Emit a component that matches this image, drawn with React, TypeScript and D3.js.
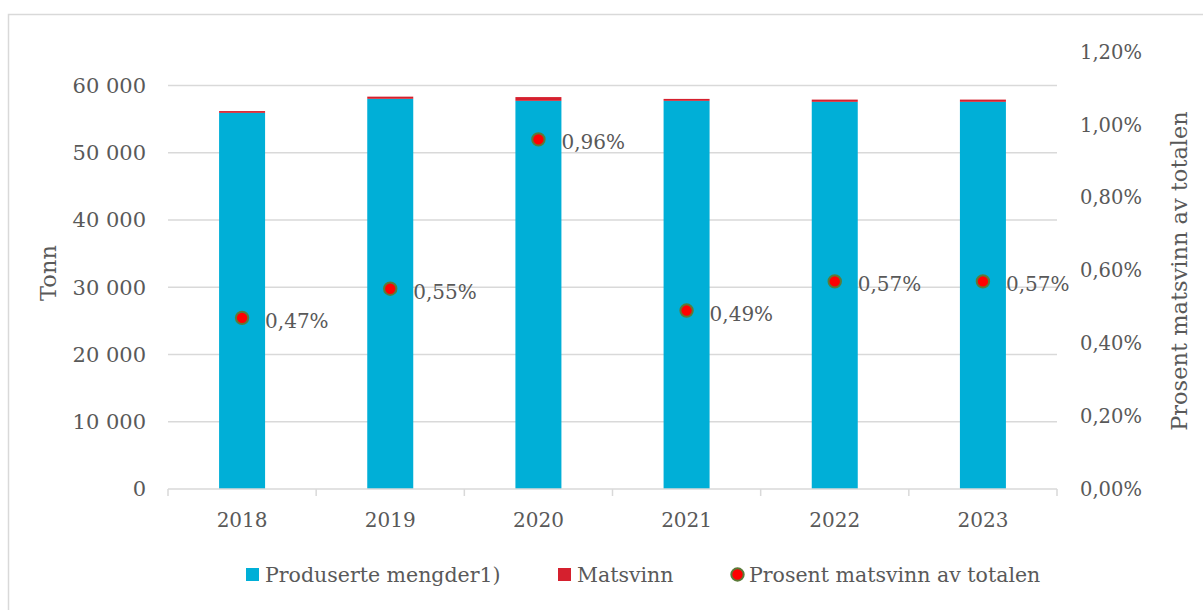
import React from "react";
import * as d3 from "d3";

const years = ["2018", "2019", "2020", "2021", "2022", "2023"];
const produced = [55950, 58040, 57740, 57740, 57590, 57590];
const waste = [263, 320, 555, 283, 330, 330];
const percent = [0.47, 0.55, 0.96, 0.49, 0.57, 0.57];
const percentLabels = ["0,47%", "0,55%", "0,96%", "0,49%", "0,57%", "0,57%"];
const leftTicks = [0, 10000, 20000, 30000, 40000, 50000, 60000];
const rightTicks = [0, 0.2, 0.4, 0.6, 0.8, 1.0, 1.2];
const legendItems = ["Produserte mengder1)", "Matsvinn", "Prosent matsvinn av totalen"];

const W = 1203;
const H = 610;
const plot = { left: 168, right: 1057, top: 52, bottom: 489 };
const FONT = "'DejaVu Serif', Georgia, serif";
const TEXT = "#595959";
const GRID = "#d9d9d9";
const BLUE = "#00afd7";
const RED = "#d5202e";
const DOT = "#ff0000";
const DOT_STROKE = "#5b7a38";

const fmtLeft = (v: number) => d3.format(",")(v).replace(/,/g, " ");
const fmtRight = (v: number) => v.toFixed(2).replace(".", ",") + "%";

export default function App() {
  const x = d3.scaleBand<string>().domain(years).range([plot.left, plot.right]).paddingInner(0).paddingOuter(0);
  const yL = d3.scaleLinear().domain([0, 65000]).range([plot.bottom, plot.top]);
  const yR = d3.scaleLinear().domain([0, 1.2]).range([plot.bottom, plot.top]);
  const barW = 46;
  const boundaries = [...years.map((y) => x(y) as number), plot.right];

  return (
    <svg width={W} height={H} style={{ position: "absolute", left: 0, top: 0, background: "#fff" }} fontFamily={FONT}>
      <rect x={8.5} y={14.5} width={1220} height={620} fill="#fff" stroke={GRID} strokeWidth={1.5} />
      {leftTicks.slice(1).map((t) => (
        <line key={t} x1={plot.left} x2={plot.right} y1={yL(t)} y2={yL(t)} stroke={GRID} strokeWidth={1.5} />
      ))}
      {leftTicks.map((t) => (
        <text key={t} x={146} y={yL(t)} dy="0.35em" textAnchor="end" fontSize={21} fill={TEXT}>
          {fmtLeft(t)}
        </text>
      ))}
      {rightTicks.map((t) => (
        <text key={t} x={1080} y={yR(t)} dy="0.35em" textAnchor="start" fontSize={19.5} fill={TEXT}>
          {fmtRight(t)}
        </text>
      ))}
      {years.map((yr, i) => {
        const cx = (x(yr) as number) + x.bandwidth() / 2;
        return (
          <g key={yr}>
            <rect x={cx - barW / 2} y={yL(produced[i])} width={barW} height={plot.bottom - yL(produced[i])} fill={BLUE} />
            <rect
              x={cx - barW / 2}
              y={yL(produced[i] + waste[i])}
              width={barW}
              height={yL(produced[i]) - yL(produced[i] + waste[i])}
              fill={RED}
            />
          </g>
        );
      })}
      <line x1={plot.left} x2={plot.right} y1={plot.bottom} y2={plot.bottom} stroke={GRID} strokeWidth={1.5} />
      {boundaries.map((b, i) => (
        <line key={i} x1={b} x2={b} y1={plot.bottom} y2={plot.bottom + 7} stroke={GRID} strokeWidth={1.5} />
      ))}
      {years.map((yr) => (
        <text key={yr} x={(x(yr) as number) + x.bandwidth() / 2} y={527} textAnchor="middle" fontSize={20} fill={TEXT}>
          {yr}
        </text>
      ))}
      {years.map((yr, i) => {
        const cx = (x(yr) as number) + x.bandwidth() / 2;
        const cy = yR(percent[i]);
        return (
          <g key={yr}>
            <circle cx={cx} cy={cy} r={6.2} fill={DOT} stroke={DOT_STROKE} strokeWidth={2} />
            <text x={cx + 23} y={cy + 3} dy="0.35em" fontSize={20} fill={TEXT}>
              {percentLabels[i]}
            </text>
          </g>
        );
      })}
      <text transform={`translate(56,273) rotate(-90)`} textAnchor="middle" fontSize={22.5} fill={TEXT}>
        Tonn
      </text>
      <text transform={`translate(1187,271) rotate(-90)`} textAnchor="middle" fontSize={22.5} fill={TEXT}>
        Prosent matsvinn av totalen
      </text>
      <g fontSize={20.5} fill={TEXT}>
        <rect x={246} y={568} width={13} height={13} fill={BLUE} />
        <text x={265} y={582}>{legendItems[0]}</text>
        <rect x={558} y={568} width={13} height={13} fill={RED} />
        <text x={577} y={582}>{legendItems[1]}</text>
        <circle cx={737.5} cy={574.5} r={6.2} fill={DOT} stroke={DOT_STROKE} strokeWidth={2} />
        <text x={749} y={582}>{legendItems[2]}</text>
      </g>
    </svg>
  );
}
